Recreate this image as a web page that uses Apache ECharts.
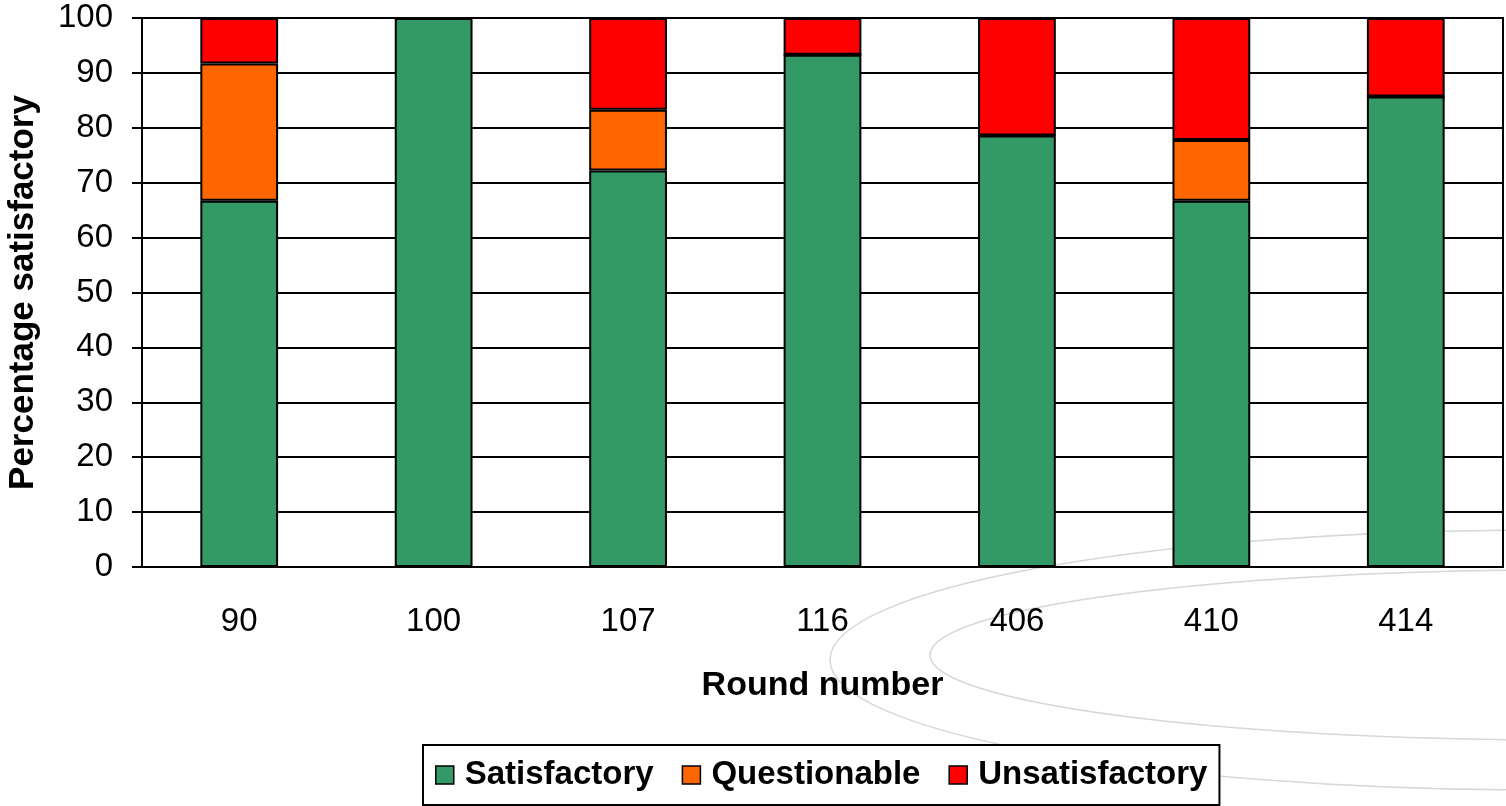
<!DOCTYPE html>
<html>
<head>
<meta charset="utf-8">
<script src="https://cdn.jsdelivr.net/npm/echarts@6/dist/echarts.min.js"></script>
<style>
  html, body { margin: 0; padding: 0; background: #fff; }
  #chart { width: 1506px; height: 806px; }
</style>
</head>
<body>
<div id="chart"></div>
<script>
// round numbers on the x axis
var rounds = ['90', '100', '107', '116', '406', '410', '414']
// percentages per outcome, stacked
var satisfactory = [66.7, 100, 72.2, 93.3, 78.6, 66.7, 85.7]
var questionable = [25.0, 0, 11.1, 0, 0, 11.1, 0]
var unsatisfactory = [8.3, 0, 16.7, 6.7, 21.4, 22.2, 14.3]
var yTicks = [0, 10, 20, 30, 40, 50, 60, 70, 80, 90, 100]

var names = ['Satisfactory', 'Questionable', 'Unsatisfactory']
var colors = ['#339966', '#ff6600', '#ff0000']
var values = [satisfactory, questionable, unsatisfactory]

var font = '"Liberation Sans", Arial, sans-serif'
var chart = echarts.init(document.getElementById('chart'))

var series = []
for (var i = 0; i < names.length; i++) {
  series.push({
    name: names[i],
    type: 'bar',
    stack: 'total',
    barWidth: '40%',
    data: values[i],
    itemStyle: {
      color: colors[i],
      borderColor: '#000',
      borderWidth: 2
    },
    z: 3
  })
}

chart.setOption({
  backgroundColor: '#fff',
  animation: false,
  // faint decorative swooshes behind the plot
  graphic: [
    {
      type: 'ellipse', z: -10, silent: true,
      shape: { cx: 1540, cy: 660, rx: 710, ry: 130 },
      style: { fill: 'none', stroke: '#d4d8d8', lineWidth: 1.5 }
    },
    {
      type: 'ellipse', z: -10, silent: true,
      shape: { cx: 1560, cy: 655, rx: 630, ry: 85 },
      style: { fill: 'none', stroke: '#d4d8d8', lineWidth: 1.5 }
    }
  ],
  grid: {
    left: 142,
    right: 3,
    top: 18,
    bottom: 239,
    outerBoundsMode: 'none',
    show: true,
    borderColor: '#000',
    borderWidth: 2,
    backgroundColor: 'transparent'
  },
  legend: {
    data: names,
    bottom: 1,
    left: 423,
    itemWidth: 18,
    itemHeight: 18,
    itemGap: 28,
    borderColor: '#000',
    borderWidth: 2,
    padding: [11, 12, 11, 12],
    backgroundColor: '#fff',
    icon: 'rect',
    itemStyle: { borderColor: '#000', borderWidth: 1.5 },
    textStyle: {
      fontFamily: font,
      fontWeight: 'bold',
      fontSize: 33,
      lineHeight: 38,
      color: '#000',
      padding: [0, 0, 0, 6]
    }
  },
  xAxis: {
    type: 'category',
    data: rounds,
    name: 'Round number',
    nameLocation: 'middle',
    nameGap: 102,
    nameTextStyle: {
      fontFamily: font,
      fontWeight: 'bold',
      fontSize: 34,
      color: '#000'
    },
    axisLine: { lineStyle: { color: '#000', width: 2 } },
    axisTick: { length: 11, lineStyle: { color: '#000', width: 2 } },
    axisLabel: {
      margin: 38,
      fontFamily: font,
      fontSize: 33,
      color: '#000'
    }
  },
  yAxis: {
    type: 'value',
    min: 0,
    max: 100,
    interval: 10,
    name: 'Percentage satisfactory',
    nameLocation: 'middle',
    nameGap: 101,
    nameTextStyle: {
      fontFamily: font,
      fontWeight: 'bold',
      fontSize: 35,
      color: '#000'
    },
    axisLine: { show: true, lineStyle: { color: '#000', width: 2 } },
    axisTick: { show: true, length: 10, lineStyle: { color: '#000', width: 2 } },
    axisLabel: {
      margin: 29,
      fontFamily: font,
      fontSize: 33,
      color: '#000',
      formatter: function (v) {
        return yTicks.indexOf(v) >= 0 ? String(v) : ''
      }
    },
    splitLine: { lineStyle: { color: '#000', width: 2 } }
  },
  series: series
})
</script>
</body>
</html>
